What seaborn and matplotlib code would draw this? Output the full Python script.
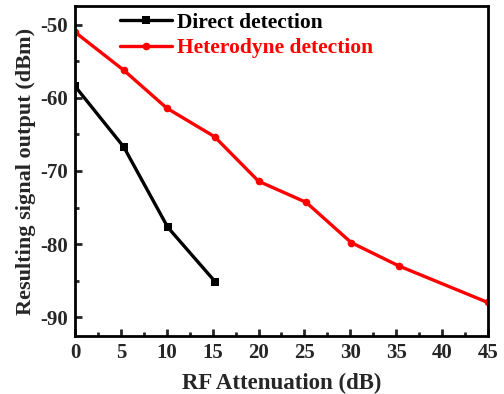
import matplotlib
matplotlib.use("Agg")
import matplotlib.pyplot as plt
import seaborn as sns
import pandas as pd
from matplotlib.ticker import MultipleLocator

# Measured signal level versus RF attenuation
direct_atten = [0, 5.3, 10.1, 15.3]
direct_level = [-58.4, -66.7, -77.7, -85.2]
hetero_atten = [0, 5.3, 10.0, 15.2, 20.0, 25.2, 30.1, 35.3, 45.0]
hetero_level = [-51.0, -56.2, -61.4, -65.3, -71.4, -74.3, -79.8, -83.0, -88.0]

x_ticks = [0, 5, 10, 15, 20, 25, 30, 35, 40, 45]
y_ticks = [-90, -80, -70, -60, -50]

sns.set_theme(style="white")
plt.rcParams["font.family"] = ["Liberation Serif", "DejaVu Serif"]
plt.rcParams["font.weight"] = "bold"
plt.rcParams["axes.unicode_minus"] = False

df = pd.concat([
    pd.DataFrame({"atten": direct_atten, "level": direct_level, "kind": "Direct detection"}),
    pd.DataFrame({"atten": hetero_atten, "level": hetero_level, "kind": "Heterodyne detection"}),
])

fig, ax = plt.subplots(figsize=(5.04, 3.94), dpi=100)
fig.subplots_adjust(left=0.149, right=0.968, top=0.985, bottom=0.147)

sns.lineplot(data=df, x="atten", y="level", hue="kind", style="kind",
             palette={"Direct detection": "black", "Heterodyne detection": "#ff0000"},
             markers={"Direct detection": "s", "Heterodyne detection": "o"},
             dashes=False, linewidth=2.4, markersize=5.5, markeredgewidth=0,
             ax=ax, clip_on=True)

ax.set_xlim(0, 45)
ax.set_ylim(-92.6, -47.4)
ax.set_xticks(x_ticks)
ax.set_yticks(y_ticks)
ax.xaxis.set_minor_locator(MultipleLocator(2.5))
ax.yaxis.set_minor_locator(MultipleLocator(5))
ax.tick_params(axis="both", which="major", direction="in", length=5, width=2,
               labelsize=15, top=False, right=False, bottom=True, left=True, pad=5)
ax.tick_params(axis="both", which="minor", direction="in", length=3, width=2,
               top=False, right=False, bottom=True, left=True)
for lbl in ax.get_xticklabels() + ax.get_yticklabels():
    lbl.set_fontweight("bold")
for sp in ax.spines.values():
    sp.set_linewidth(2)
    sp.set_color("black")

ax.set_xlabel("RF Attenuation (dB)", fontsize=16.5, fontweight="bold", labelpad=7)
ax.set_ylabel("Resulting signal output (dBm)", fontsize=16, fontweight="bold", labelpad=3)

leg = ax.legend(loc="upper left", bbox_to_anchor=(0.088, 1.005), frameon=False,
                fontsize=15.5, handlelength=2.4, handletextpad=0.25, labelspacing=0.25,
                borderaxespad=0.0)
for t, c in zip(leg.get_texts(), ["black", "#ff0000"]):
    t.set_color(c)
    t.set_fontweight("bold")

fig.savefig("out.png", dpi=100)
